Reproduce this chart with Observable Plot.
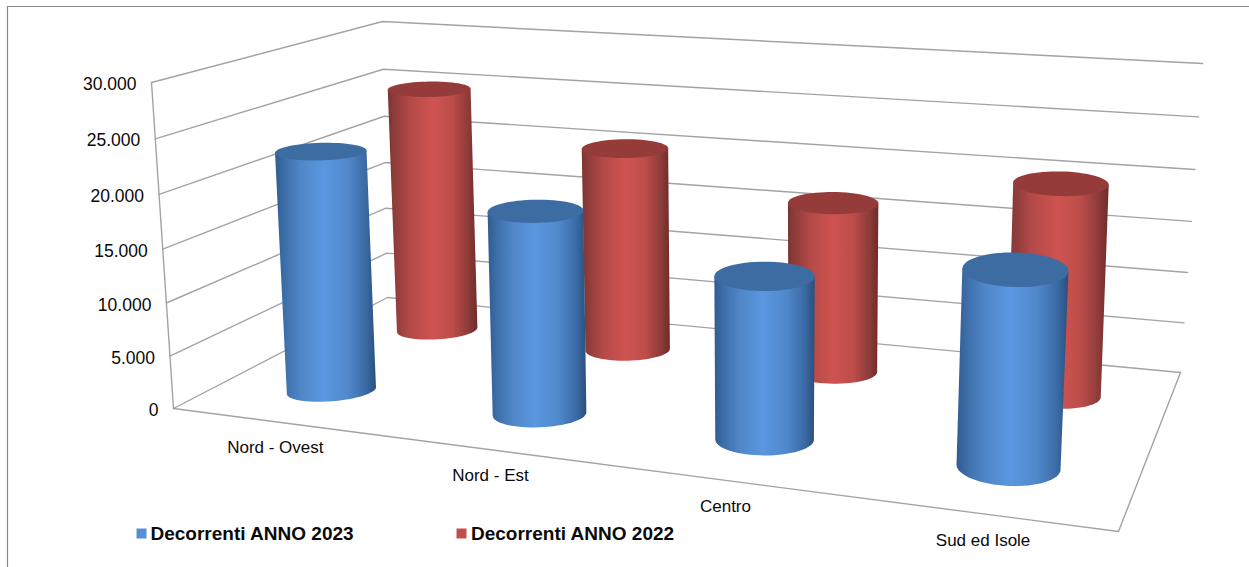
<!DOCTYPE html>
<html lang="it">
<head>
<meta charset="utf-8">
<script src="https://cdn.jsdelivr.net/npm/d3@7"></script>
<script src="https://cdn.jsdelivr.net/npm/@observablehq/plot@0.6"></script>
<style>
html,body{margin:0;padding:0;background:#fff;overflow:hidden}
svg{display:block}
</style>
</head>
<body>
<div id="chart"></div>
<script>
// ---- data ----
const categories = ["Nord - Ovest", "Nord - Est", "Centro", "Sud ed Isole"];
const series2023 = [22790, 18900, 14880, 17480];
const series2022 = [24980, 20400, 16650, 20180];
const seriesNames = ["Decorrenti ANNO 2023", "Decorrenti ANNO 2022"];
const valueTicks = [0, 5000, 10000, 15000, 20000, 25000, 30000];
const valueMax = 30000;

// ---- 3D camera of the chart box: pixel corners of floor and ceiling ----
const floorCorners = [[173, 408], [1118, 531], [1180, 372], [387, 297]];
const ceilCorners = [[151, 82], [1145, 166], [1202, 63], [382, 21]];

function homography([p00, p10, p11, p01]) {
  const dx1 = p10[0] - p11[0], dy1 = p10[1] - p11[1];
  const dx2 = p01[0] - p11[0], dy2 = p01[1] - p11[1];
  const sx = p00[0] - p10[0] + p11[0] - p01[0], sy = p00[1] - p10[1] + p11[1] - p01[1];
  const det = dx1 * dy2 - dx2 * dy1;
  const g = (sx * dy2 - dx2 * sy) / det, h = (dx1 * sy - sx * dy1) / det;
  const a = p10[0] - p00[0] + g * p10[0], b = p01[0] - p00[0] + h * p01[0];
  const d = p10[1] - p00[1] + g * p10[1], e = p01[1] - p00[1] + h * p01[1];
  const fn = (s, t) => {
    const w = g * s + h * t + 1;
    return [(a * s + b * t + p00[0]) / w, (d * s + e * t + p00[1]) / w];
  };
  fn.w = (s, t) => g * s + h * t + 1;
  return fn;
}
const H0 = homography(floorCorners), H1 = homography(ceilCorners);
const heightFrac = v => { const f = v / valueMax; return f / (f + (1 - f) * 1.045); };
function project(s, t, v) {
  const f = heightFrac(v), a = H0(s, t), b = H1(s, t);
  const m = 4 * s * (1 - s);
  const lean = f * (16.4 * m + 8.4 * m * m) * (1 - (0.8 - 0.45 * m) * (t - 0.24) / 0.52);
  return [a[0] + (b[0] - a[0]) * f + lean, a[1] + (b[1] - a[1]) * f];
}

// category and series bands on the floor
const catS = i => { const s = (i + 0.5) / categories.length; return s + 0.004 + 0.012 * 4 * s * (1 - s); };
const depthT = { 2023: s => 0.23 + 0.036 * s, 2022: s => 0.766 - 0.02 * s };
const sideS = { 2023: s => s * 0.9963, 2022: s => s };

// ---- grid ----
const grid = [];
valueTicks.forEach(v => {
  [[0, 0], [0, 1], [1, 1]].forEach(([s, t]) => {
    const [x, y] = project(s, t, v);
    grid.push({ x, y, z: "g" + v });
  });
});
[[0, 0, 0], [0, 0, valueMax]].forEach(([s, t, v]) => {
  const [x, y] = project(s, t, v);
  grid.push({ x, y, z: "axis" });
});
[[0, 0], [1, 0], [1, 1]].forEach(([s, t]) => {
  const [x, y] = project(s, t, 0);
  grid.push({ x, y, z: "floor" });
});

// ---- cylinders ----
function ring(s, t, v) {
  const [cx, cy] = project(s, t, v);
  const f = v / valueMax;
  const rx = (45.5 / H0.w(s, t)) * (1 + 0.035 * f);
  const ratio = 0.24 - 0.065 * f + ((s - 0.125) / 0.75) * (0.125 - 0.065 * (t - 0.24) / 0.52);
  const ry = rx * ratio;
  const slope = (cx - 750) * 0.00018 * (1 - 0.9 * f);
  return a => {
    const dx = rx * Math.cos(a);
    return [cx + dx, cy + ry * Math.sin(a) + slope * dx];
  };
}
function cylinderRows(values, year) {
  const body = [], top = [];
  values.forEach((v, i) => {
    const s = sideS[year](catS(i)), t = depthT[year](s);
    const lo = ring(s, t, 0), hi = ring(s, t, v);
    const id = year + "-" + i;
    // body outline: down the left side, along the front of the base, up the right side
    body.push({ p: hi(Math.PI), id });
    d3.range(0, 33).forEach(k => body.push({ p: lo(Math.PI - (k / 32) * Math.PI), id }));
    body.push({ p: hi(0), id });
    d3.range(0, 65).forEach(k => top.push({ p: hi((k / 64) * 2 * Math.PI), id }));
  });
  return { body, top };
}
const red = cylinderRows(series2022, 2022);
const blue = cylinderRows(series2023, 2023);

const gradientDefs = () => {
  const defs = d3.create("svg:defs");
  const add = (id, stops) => {
    const g = defs.append("linearGradient").attr("id", id).attr("x1", 0).attr("x2", 1).attr("y1", 0).attr("y2", 0);
    stops.forEach(([o, c]) => g.append("stop").attr("offset", o).attr("stop-color", c));
  };
  add("blueBody", [[0, "#2f5c90"], [0.08, "#3b6ca6"], [0.25, "#4f86c8"], [0.48, "#5a97e0"], [0.72, "#5088cc"], [0.9, "#3a6aa4"], [1, "#2b4f7c"]]);
  add("redBody", [[0, "#7c3432"], [0.08, "#8f3d3b"], [0.25, "#b44a48"], [0.5, "#cf5350"], [0.72, "#bd4d4a"], [0.9, "#8c3b39"], [1, "#6e2c2a"]]);
  return defs.node();
};

const fmt = d3.formatLocale({ decimal: ",", thousands: ".", grouping: [3], currency: ["", "€"] }).format(",");
const legend = [
  { name: seriesNames[0], color: "#558ed5", swatch: 134, label: 143 },
  { name: seriesNames[1], color: "#c0504d", swatch: 454, label: 463.5 }
];
const textFill = "#0a0a0a";

const cylinderMarks = (set, bodyFill, topFill) => [
  Plot.line(set.body, { x: d => d.p[0], y: d => d.p[1], z: "id", fill: bodyFill, stroke: "none" }),
  Plot.line(set.top, { x: d => d.p[0], y: d => d.p[1], z: "id", fill: topFill, stroke: "none" })
];

const chart = Plot.plot({
  width: 1249,
  height: 567,
  marginLeft: 7,
  marginTop: 6,
  marginRight: 0,
  marginBottom: 0,
  x: { domain: [7, 1249], range: [7, 1249], axis: null },
  y: { domain: [6, 567], range: [6, 567], axis: null },
  style: { fontFamily: "'Liberation Sans', Arial, sans-serif", background: "#fff" },
  marks: [
    gradientDefs,
    Plot.frame({ anchor: "left", stroke: "#868686", strokeWidth: 1.2 }),
    Plot.frame({ anchor: "top", stroke: "#868686", strokeWidth: 1.2 }),
    Plot.line(grid, { x: "x", y: "y", z: "z", stroke: "#a3a3a3", strokeWidth: 1.4 }),
    ...cylinderMarks(red, "url(#redBody)", "#953b39"),
    ...cylinderMarks(blue, "url(#blueBody)", "#3d6ca3"),
    Plot.text(valueTicks, {
      x: v => project(0, 0, v)[0],
      y: v => project(0, 0, v)[1],
      text: v => fmt(v),
      textAnchor: "end", dx: -15, dy: 2, fontSize: 17.5, fill: textFill
    }),
    Plot.text(categories, {
      x: (c, i) => project(catS(i), 0, 0)[0],
      y: (c, i) => project(catS(i), 0, 0)[1],
      text: c => c,
      dx: -2, dy: 26, fontSize: 17, fill: textFill
    }),
    ...legend.flatMap(l => [
      Plot.dot([l], { frameAnchor: "bottom-left", dx: l.swatch, dy: -34, symbol: "square", r: 5.64, fill: l.color, stroke: "none" }),
      Plot.text([l], { frameAnchor: "bottom-left", dx: l.label, dy: -33.5, text: "name", textAnchor: "start", lineAnchor: "middle", fontSize: 19, fontWeight: "bold", fill: textFill })
    ])
  ]
});
document.getElementById("chart").append(chart);
</script>
</body>
</html>
